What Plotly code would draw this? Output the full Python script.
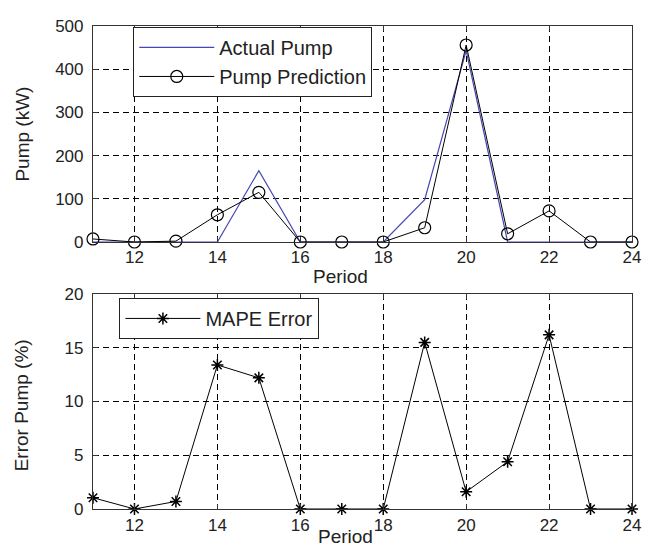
import plotly.graph_objects as go

periods = [11, 12, 13, 14, 15, 16, 17, 18, 19, 20, 21, 22, 23, 24]
actual_pump = [0, 0, 0, 0, 165, 0, 0, 0, 98, 443, 0, 0, 0, 0]
pump_prediction = [7, 0, 2, 63, 115, 0, 0, 0, 33, 456, 19, 72, 0, 0]
mape_error = [1.05, 0, 0.7, 13.4, 12.2, 0, 0, 0, 15.5, 1.6, 4.4, 16.2, 0, 0]

x_ticks = [12, 14, 16, 18, 20, 22, 24]
top_y_ticks = [0, 100, 200, 300, 400, 500]
bottom_y_ticks = [0, 5, 10, 15, 20]

FONT = "Liberation Sans, Arial, sans-serif"
TXT = "#222222"

fig = go.Figure()
fig.add_trace(go.Scatter(x=periods, y=actual_pump, mode="lines", name="Actual Pump",
                         line=dict(color="#4646b4", width=1.2), xaxis="x", yaxis="y",
                         legend="legend", cliponaxis=False))
fig.add_trace(go.Scatter(x=periods, y=pump_prediction, mode="lines+markers", name="Pump Prediction",
                         line=dict(color="black", width=1),
                         marker=dict(symbol="circle-open", size=12, color="black", line=dict(width=1.2)),
                         xaxis="x", yaxis="y", legend="legend", cliponaxis=False))
fig.add_trace(go.Scatter(x=periods, y=mape_error, mode="lines+markers", name="MAPE Error",
                         line=dict(color="black", width=1),
                         marker=dict(symbol="asterisk-open", size=10, color="black", line=dict(width=1.5, color="black")),
                         xaxis="x2", yaxis="y2", legend="legend2", cliponaxis=False))

grid = dict(showgrid=True, gridcolor="black", gridwidth=1, griddash="6px,4px")
axis_common = dict(showline=True, linecolor="#333333", linewidth=1.2, mirror="ticks",
                   ticks="inside", ticklen=5, tickcolor="#333333", zeroline=False,
                   tickfont=dict(family=FONT, size=17, color=TXT), **grid)

fig.update_layout(
    width=653, height=548,
    margin=dict(l=85, r=29, t=9, b=47),
    paper_bgcolor="white", plot_bgcolor="white",
    font=dict(family=FONT, size=17, color=TXT),
    xaxis=dict(domain=[0, 1], range=[11, 24], tickvals=x_ticks, anchor="y", **axis_common),
    yaxis=dict(domain=[0.5528, 1], range=[0, 500], tickvals=top_y_ticks, anchor="x",
               ticklabelstandoff=5, **axis_common),
    xaxis2=dict(domain=[0, 1], range=[11, 24], tickvals=x_ticks, anchor="y2", **axis_common),
    yaxis2=dict(domain=[0, 0.4451], range=[0, 20], tickvals=bottom_y_ticks, anchor="x2",
                ticklabelstandoff=5, **axis_common),
    legend=dict(x=0.0747, y=0.998, xanchor="left", yanchor="top", bgcolor="white",
                bordercolor="#222222", borderwidth=1, font=dict(family=FONT, size=20, color=TXT),
                itemwidth=75),
    legend2=dict(x=0.049, y=0.437, xanchor="left", yanchor="top", bgcolor="white",
                 bordercolor="#222222", borderwidth=1, font=dict(family=FONT, size=20, color=TXT),
                 itemwidth=75),
    showlegend=True,
    annotations=[
        dict(text="Period", x=0.459, y=0.4817, xref="paper", yref="paper", showarrow=False,
             xanchor="center", yanchor="middle", font=dict(family=FONT, size=19, color=TXT)),
        dict(text="Period", x=0.468, y=-0.056, xref="paper", yref="paper", showarrow=False,
             xanchor="center", yanchor="middle", font=dict(family=FONT, size=19, color=TXT)),
        dict(text="Pump (kW)", x=-0.131, y=0.776, xref="paper", yref="paper", showarrow=False,
             xanchor="center", yanchor="middle",
             textangle=-90, font=dict(family=FONT, size=19, color=TXT)),
        dict(text="Error Pump (%)", x=-0.131, y=0.2154, xref="paper", yref="paper", showarrow=False,
             xanchor="center", yanchor="middle",
             textangle=-90, font=dict(family=FONT, size=19, color=TXT)),
    ],
)

fig.write_html("out.html")
